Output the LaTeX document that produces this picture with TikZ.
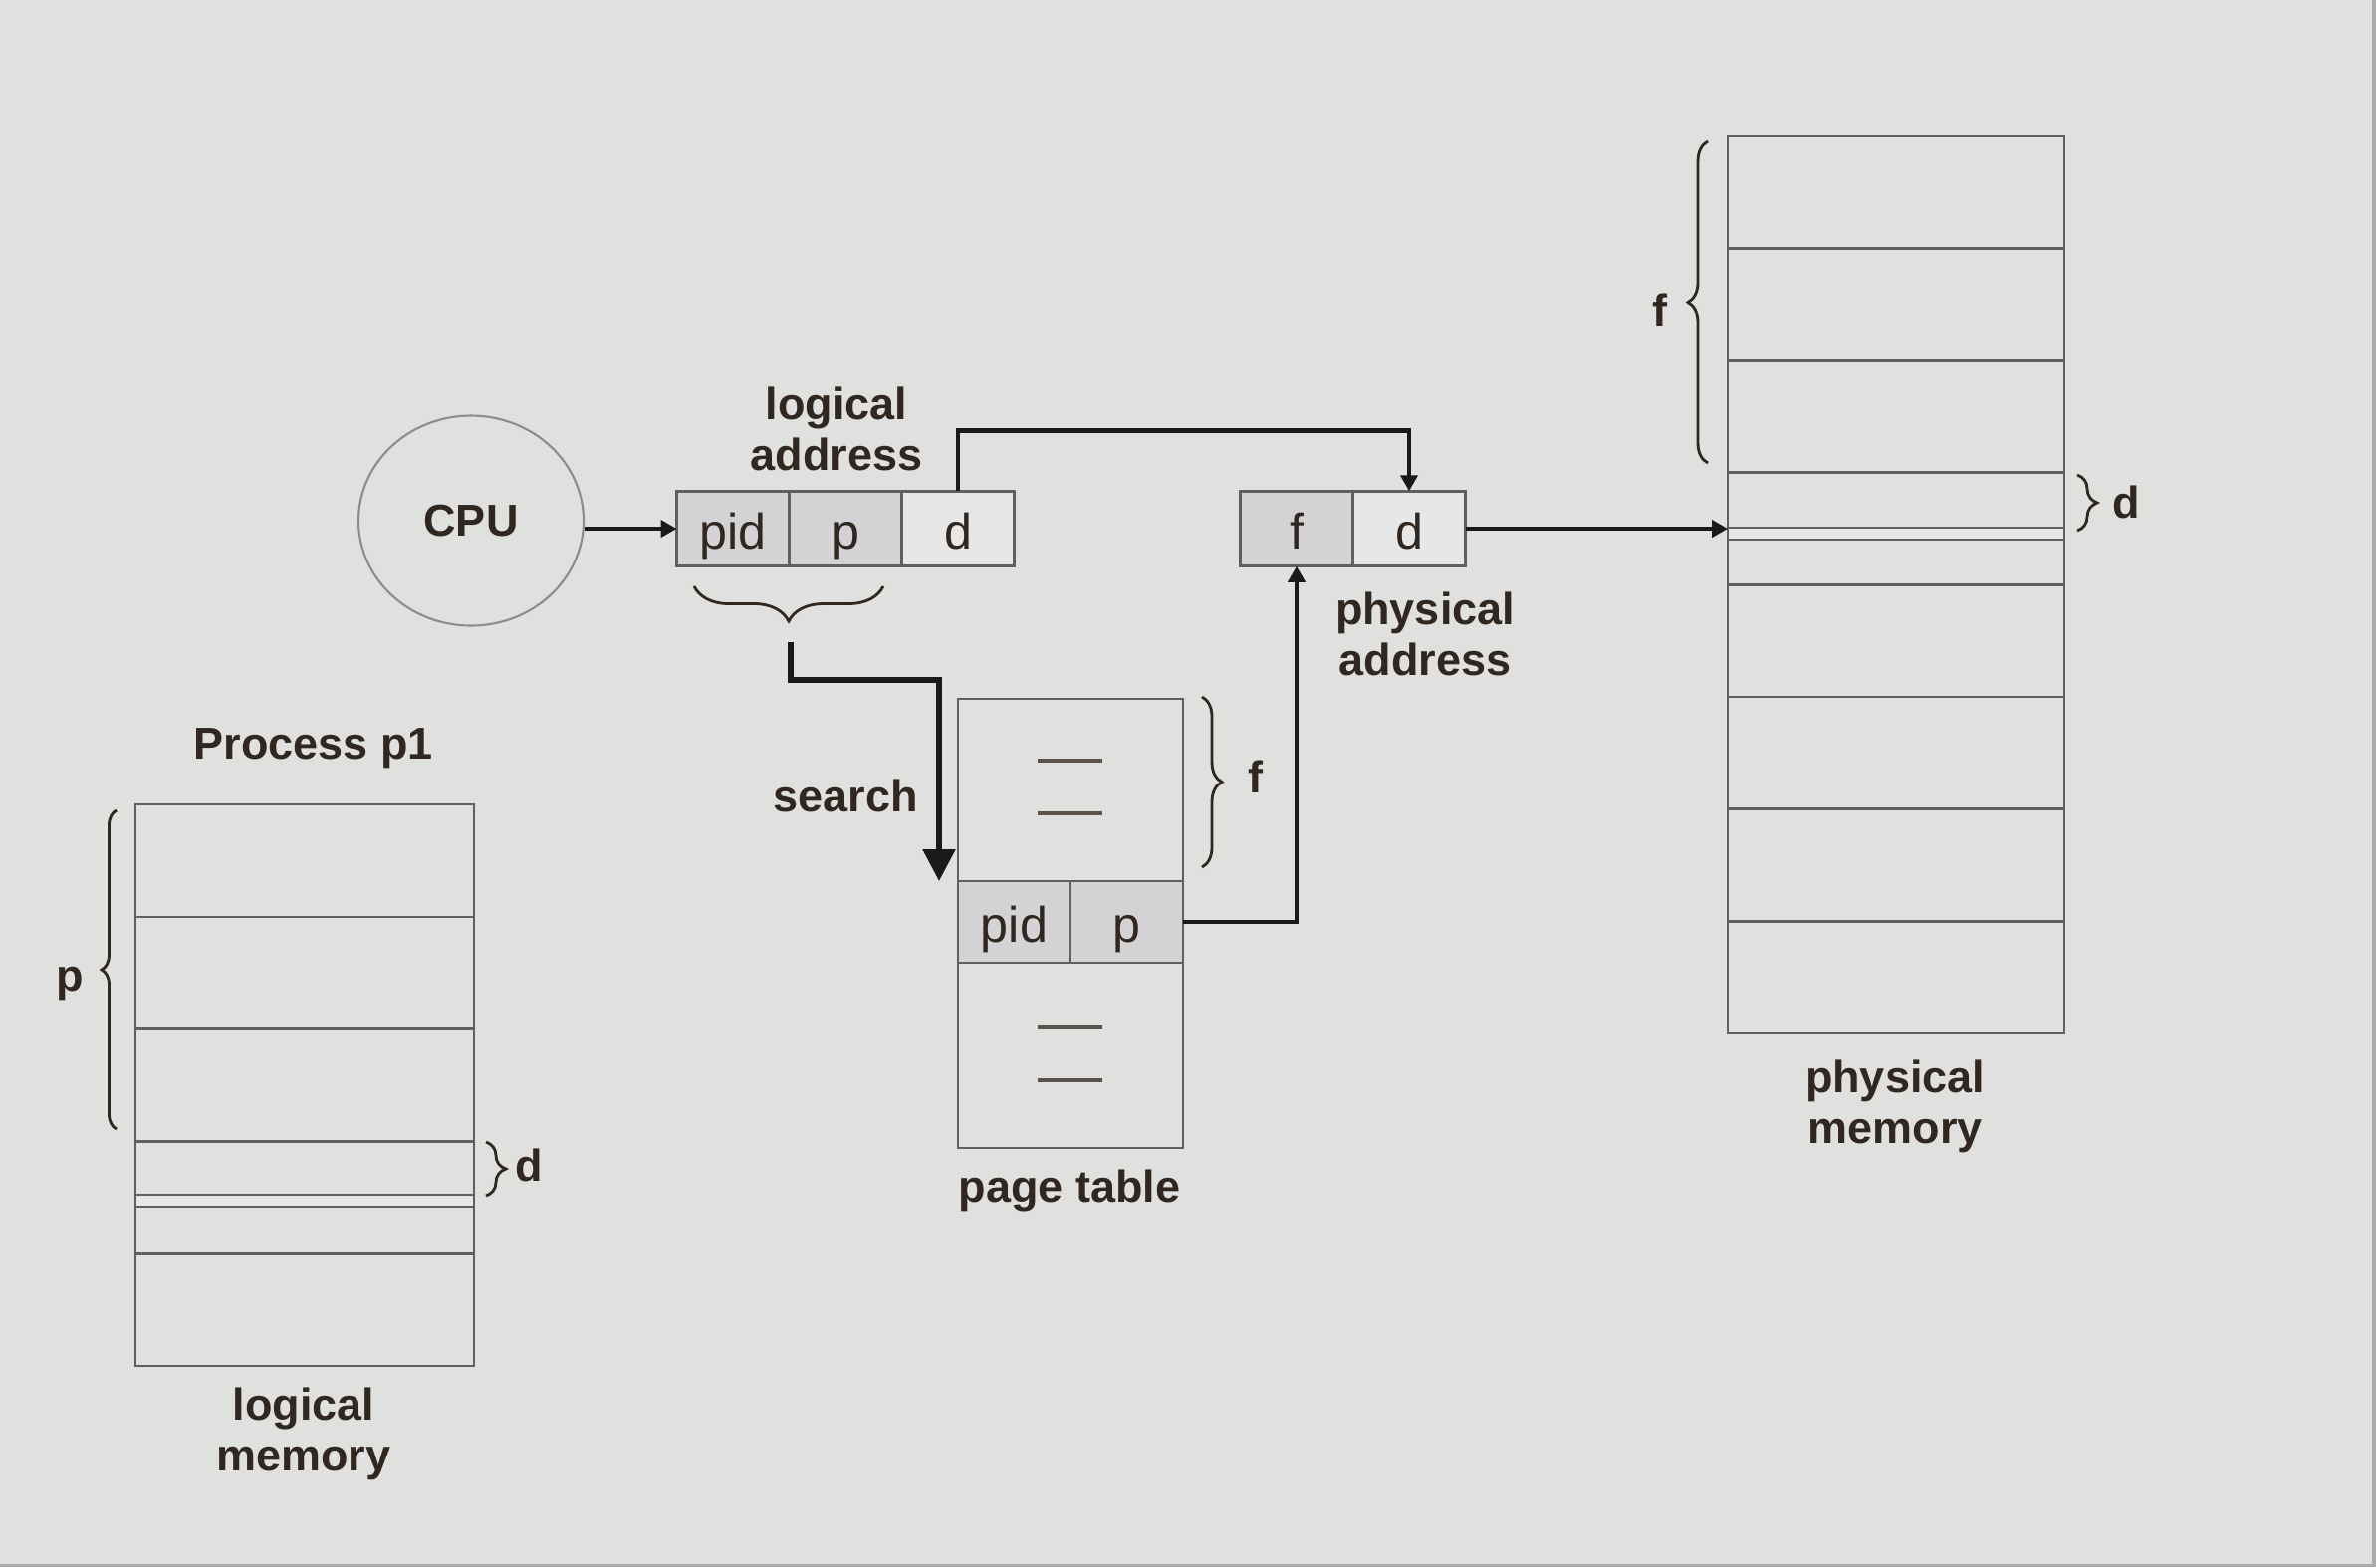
\documentclass[tikz,border=0pt]{standalone}
\usepackage{fontspec}
\setmainfont{Liberation Sans}
\usetikzlibrary{arrows.meta,positioning,calc,shapes.geometric,decorations.pathreplacing}
\definecolor{slide}{RGB}{224,224,222}
\definecolor{ink}{RGB}{48,40,32}
\definecolor{rule}{RGB}{95,95,95}
\definecolor{keyfill}{RGB}{211,211,214}
\definecolor{offfill}{RGB}{231,231,231}
\definecolor{edge}{RGB}{170,170,170}
\tikzset{cell/.style={draw=rule,line width=0.75pt,minimum width=11.3mm,minimum height=7.55mm,
    inner sep=0pt,outer sep=0pt,text=ink,font=\fontsize{14.3}{16}\selectfont,
    text height=4.5mm,text depth=0.5mm},
  keyed/.style={cell,fill=keyfill},
  frame/.style={draw=rule,line width=0.75pt,minimum width=33.8mm,inner sep=0pt,outer sep=0pt},
  entry/.style={line width=0.9pt,ink!80},
  flow/.style={-{Triangle[length=1.6mm,width=1.7mm]},line width=1.4pt,black!90},
  lbl/.style={font=\fontsize{12.8}{14.6}\selectfont\bfseries,text=ink,align=center},
  curly/.style={decorate,decoration={brace,amplitude=#1},line width=0.8pt,ink},
  curly/.default=2mm}

\begin{document}
\begin{tikzpicture}[x=0.1mm,y=-0.1mm]
% slide background
\fill[slide] (0,0) rectangle (2386,1574);
\fill[edge] (2382,0) rectangle (2386,1574);
\fill[edge] (0,1571) rectangle (2386,1574);

% cpu and the logical address
\node[ellipse,draw=black!45,line width=0.6pt,minimum width=22.6mm,minimum height=21.1mm,lbl] (cpu) at (473,523) {CPU};
\node[keyed] (la-pid) at (736,531) {pid};
\node[keyed,right=0pt of la-pid] (la-p) {p};
\node[cell,fill=offfill,right=0pt of la-p] (la-d) {d};
\node[lbl] at (840,431) {logical\\address};

% physical address
\node[keyed] (pa-f) at (1302,531) {f};
\node[cell,fill=offfill,right=0pt of pa-f] (pa-d) {d};
\node[lbl] at (1431,637) {physical\\address};

% page table
\node[frame,minimum width=22.6mm,minimum height=18.3mm] (pt-top) at (1075,793.5) {};
\node[keyed,minimum height=8.2mm,anchor=north west] (pt-pid) at (pt-top.south west) {pid};
\node[keyed,minimum height=8.2mm,right=0pt of pt-pid] (pt-p) {p};
\node[frame,minimum width=22.6mm,minimum height=18.6mm,anchor=north west] (pt-bot) at (pt-pid.south west) {};
\foreach \y in {764,817,1032,1085}
  \draw[entry] (1042,\y) -- (1107,\y);
\node[lbl] at (1074,1196) {page table};
\draw[curly] (1207,700) -- (1207,871);
\node[lbl] at (1261,780) {f};

% logical memory of p1
\foreach \i in {0,...,4}
  \node[frame,minimum width=34mm,minimum height=11.28mm] (lm\i) at (306,{864.4+112.8*\i}) {};
\node[frame,minimum width=34mm,minimum height=1.2mm,fill=offfill] (lm-byte) at (306,1206) {};
\node[lbl] at (315,752) {Process p1};
\node[lbl] at (305,1440) {logical\\memory};
\draw[curly=1.5mm] (117,1134) -- (117,814);
\node[lbl] at (70,988) {p};
\draw[curly] (488,1147) -- (488,1201);
\node[lbl] at (531,1170) {d};

% physical memory
\foreach \i in {0,...,7}
  \node[frame,minimum height=11.26mm] (pm\i) at (1904,{193.3+112.6*\i}) {};
\node[frame,minimum height=1.2mm,fill=offfill] (pm-byte) at (1904,536) {};
\node[lbl] at (1903,1111) {physical\\memory};
\draw[curly] (1715,465) -- (1715,142);
\node[lbl] at (1667,311) {f};
\draw[curly] (2086,477) -- (2086,533);
\node[lbl] at (2135,504) {d};

% pid and p pick the table entry
\draw[curly=3.5mm] (887,589) -- (697,589);
\coordinate (pp-tip) at (794,645);
\node[lbl] at (849,799) {search};

% connectors
\draw[flow] (cpu.east |- la-pid.west) -- (la-pid.west);
\draw[flow] (la-d.north) -- ++(0,-61) -| (pa-d.north);
\draw[flow,line width=1.6pt,-{Triangle[length=3.2mm,width=3.2mm]}] (pp-tip) -- ++(0,38) -| ($(pt-pid.north west)+(-19,0)$);
\draw[flow] (pt-p.east) -| (pa-f.south);
\draw[flow] (pa-d.east) -- (pa-d.east -| pm-byte.west);
\end{tikzpicture}
\end{document}
